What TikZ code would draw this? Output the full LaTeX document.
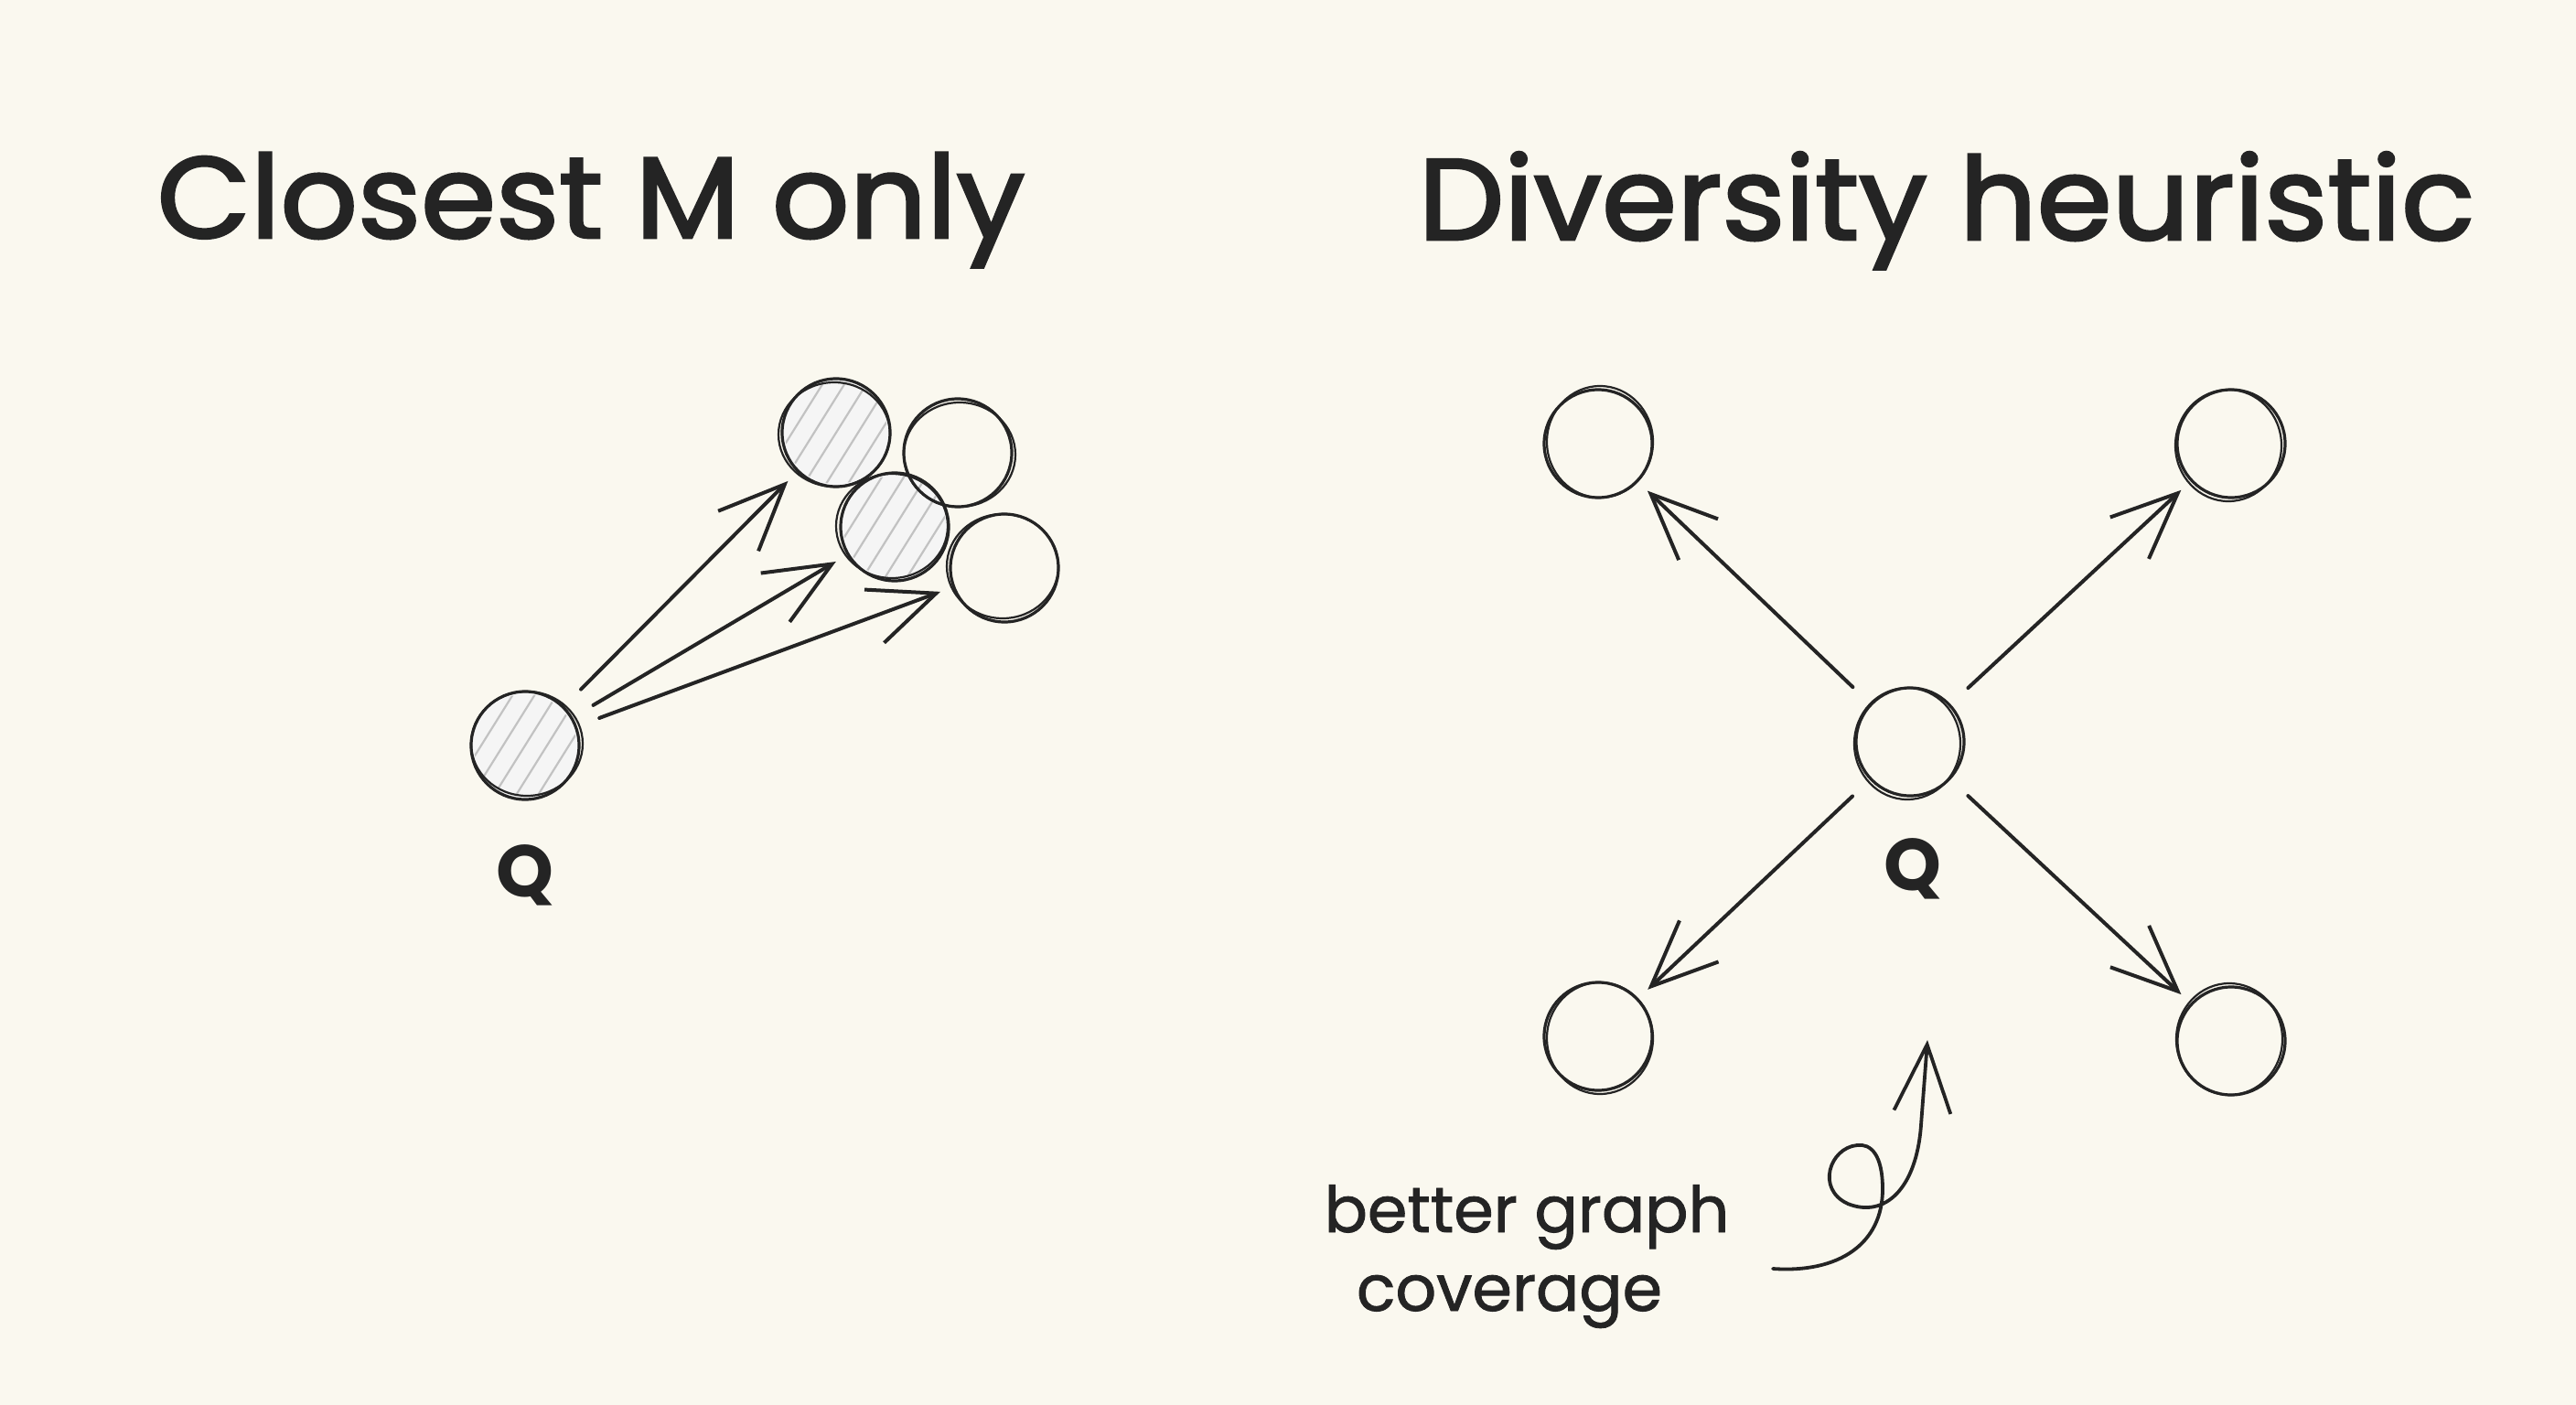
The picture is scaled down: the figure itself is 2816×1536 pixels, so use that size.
\documentclass[tikz,border=0pt]{standalone}
\usepackage{fontspec}
\setmainfont{Poppins}
\newfontfamily\titlefont{Poppins}[FakeBold=2.2]
\newfontfamily\notefont{Poppins}[FakeBold=1.2]
\usetikzlibrary{arrows.meta,calc}
\definecolor{bgc}{RGB}{250,248,239}
\definecolor{inkc}{RGB}{36,36,36}
\begin{document}
\begin{tikzpicture}[x=1pt,y=-1pt,
  vtx/.style={circle,inner sep=0pt,minimum size=118pt,draw=inkc,line width=3.2pt},
  shadedvtx/.style={vtx,fill=black!4},
  sk/.style={draw=inkc,line width=2.2pt},
  hatch/.style={draw=black!24,line width=2.2pt},
  arr/.style={draw=inkc,line width=4pt,line cap=round,-{Straight Barb[length=72pt,width=62pt,line width=4pt]},shorten <=26pt,shorten >=14pt},
  curl/.style={draw=inkc,line width=3.8pt,line cap=round,-{Straight Barb[length=74pt,width=62pt,line width=3.8pt]}},
  title/.style={font=\titlefont\fontsize{126}{140}\selectfont,text=inkc,anchor=base},
  qlab/.style={font=\bfseries\fontsize{80}{90}\selectfont,text=inkc},
  note/.style={font=\notefont\fontsize{70}{80}\selectfont,text=inkc,anchor=base}
]
\fill[bgc] (0,0) rectangle (2816,1536);
\useasboundingbox (0,0) rectangle (2816,1536);

% titles
\node[title] (t1) at (646,260) {\scalebox{1.05}[1]{Closest M only}};
\node[title] (t2) at (2128,262) {\scalebox{1.05}[1]{Diversity heuristic}};

% left: closest M only
\node[shadedvtx] (q1) at (574,815) {};
\node[shadedvtx] (a1) at (914,473) {};
\node[shadedvtx] (b1) at (978,576) {};
\foreach \n in {q1,a1,b1}{
  \begin{scope}
    \clip (\n) circle[radius=56pt];
    \foreach \k in {-6,...,6} \draw[hatch] ($(\n)+(\k*24-50,80)$) -- ++(100,-160);
  \end{scope}
}
\node[vtx] (c1) at (1047,495) {};
\node[vtx] (d1) at (1098,621) {};
\foreach \n/\dx/\dy in {q1/2/-2,a1/-2/2,b1/-3/-1,c1/2/2,d1/-2/-2}
  \draw[sk] ($(\n)+(\dx,\dy)$) ellipse[x radius=61, y radius=57];
\node[qlab] (ql1) at (574,957) {Q};
\draw[arr] (q1) -- (a1);
\draw[arr] (q1) -- (b1);
\draw[arr] (q1) -- (d1);

% right: diversity heuristic
\node[vtx] (q2) at (2088,811) {};
\node[vtx] (nw) at (1747,485) {};
\node[vtx] (ne) at (2439,485) {};
\node[vtx] (sw) at (1747,1133) {};
\node[vtx] (se) at (2439,1138) {};
\foreach \n/\dx/\dy in {q2/-3/2,nw/2/-2,ne/-3/2,sw/2/2,se/-2/-2}
  \draw[sk] ($(\n)+(\dx,\dy)$) ellipse[x radius=58, y radius=61];
\node[qlab] (ql2) at (2091,950) {Q};
\draw[arr] (q2) -- (nw);
\draw[arr] (q2) -- (ne);
\draw[arr] (q2) -- (sw);
\draw[arr] (q2) -- (se);

% note
\node[note] (nt1) at (1669,1347) {better graph};
\node[note] (nt2) at (1650,1433) {coverage};
\coordinate (cs) at (1938,1387);
\coordinate (ct) at (2107,1137);
\draw[curl] (cs) .. controls (2010,1392) and (2058,1360) .. (2058,1300)
  .. controls (2058,1262) and (2045,1250) .. (2030,1252)
  .. controls (2000,1255) and (1985,1300) .. (2020,1316)
  .. controls (2060,1332) and (2095,1300) .. (2100,1230)
  .. controls (2103,1190) and (2105,1165) .. (ct);
\end{tikzpicture}
\end{document}
